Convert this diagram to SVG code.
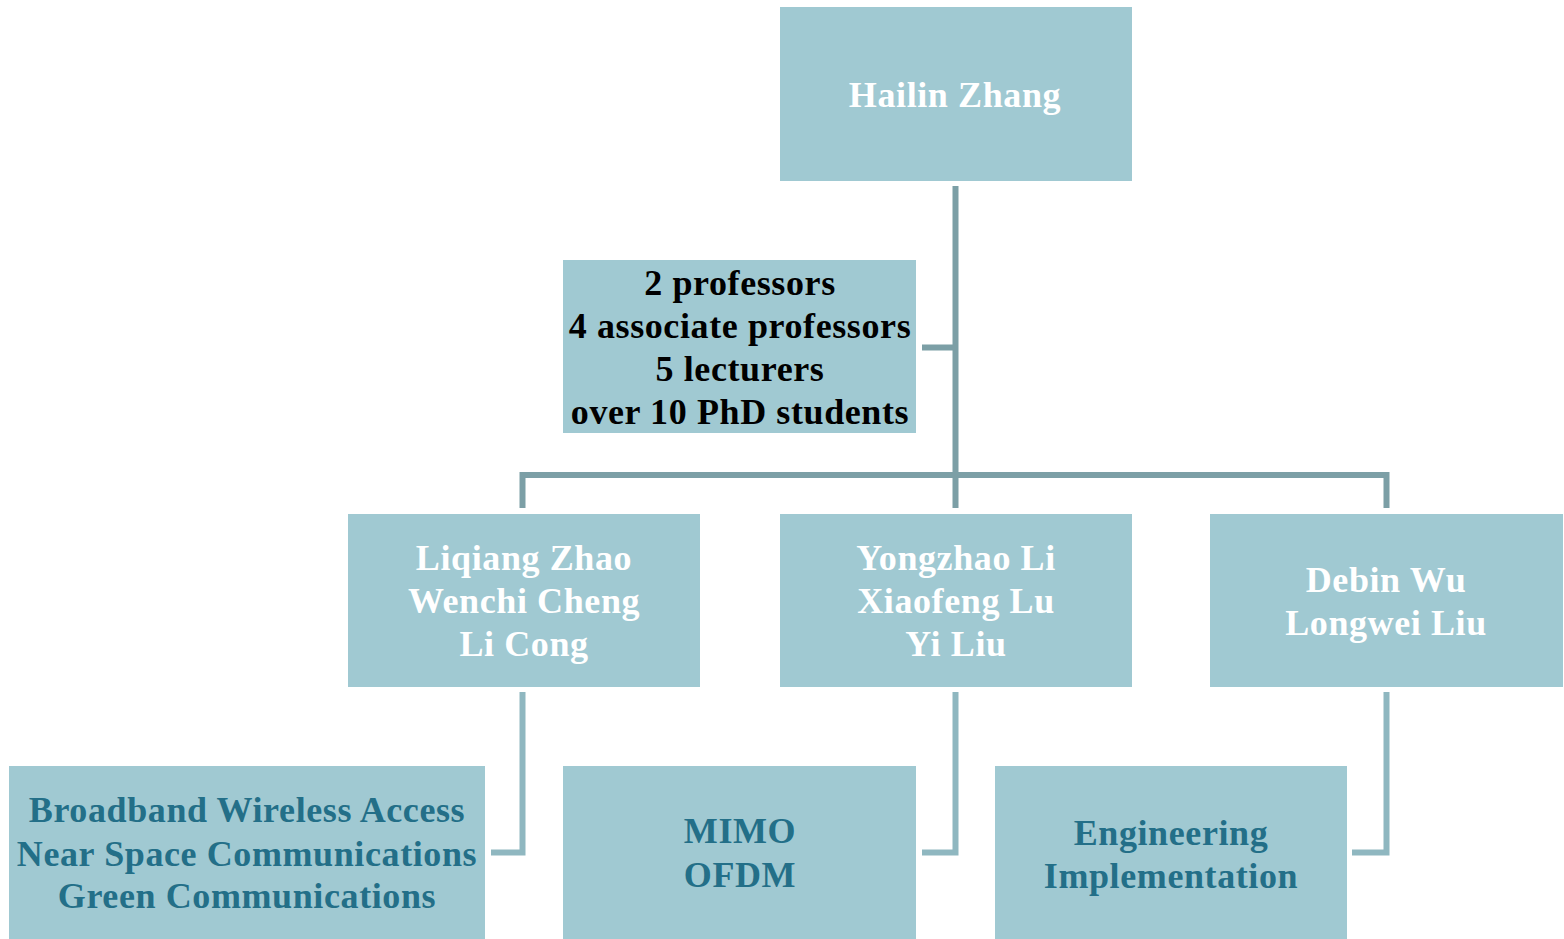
<svg xmlns="http://www.w3.org/2000/svg" width="1564" height="939" viewBox="0 0 1564 939">
<style>
.box{fill:#a0c9d2}
.t{font-family:"Liberation Serif","Times New Roman",serif;font-weight:bold;font-size:36px;text-anchor:middle;letter-spacing:0.6px}
.w{fill:#ffffff}
.k{fill:#000000}
.d{fill:#236f88}
.c1{fill:none;stroke:#7c9fa6;stroke-width:6}
.c2{fill:none;stroke:#8fb7c0;stroke-width:6}
</style>
<rect width="1564" height="939" fill="#ffffff"/>
<g id="connectors">
<path class="c1" d="M955.5 186 V508"/>
<path class="c1" d="M955.5 347.5 H922"/>
<path class="c1" d="M522.5 508 V475 H1386.5 V508"/>
<path class="c2" d="M522.5 692 V852.5 H491"/>
<path class="c2" d="M955.5 692 V852.5 H922"/>
<path class="c2" d="M1386.5 692 V852.5 H1352"/>
</g>
<g id="hailin">
<rect class="box" x="780" y="7" width="352" height="174"/>
<text class="t w" x="955" y="107">Hailin Zhang</text>
</g>
<g id="staff">
<rect class="box" x="563" y="260" width="353" height="173"/>
<text class="t k" x="740" y="295">2 professors</text>
<text class="t k" x="740" y="338">4 associate professors</text>
<text class="t k" x="740" y="381">5 lecturers</text>
<text class="t k" x="740" y="424">over 10 PhD students</text>
</g>
<g id="group1">
<rect class="box" x="348" y="514" width="352" height="173"/>
<text class="t w" x="524" y="570">Liqiang Zhao</text>
<text class="t w" x="524" y="613">Wenchi Cheng</text>
<text class="t w" x="524" y="656">Li Cong</text>
</g>
<g id="group2">
<rect class="box" x="780" y="514" width="352" height="173"/>
<text class="t w" x="956" y="570">Yongzhao Li</text>
<text class="t w" x="956" y="613">Xiaofeng Lu</text>
<text class="t w" x="956" y="656">Yi Liu</text>
</g>
<g id="group3">
<rect class="box" x="1210" y="514" width="353" height="173"/>
<text class="t w" x="1386" y="592">Debin Wu</text>
<text class="t w" x="1386" y="635">Longwei Liu</text>
</g>
<g id="topic1">
<rect class="box" x="9" y="766" width="476" height="173"/>
<text class="t d" x="247" y="822">Broadband Wireless Access</text>
<text class="t d" x="247" y="866">Near Space Communications</text>
<text class="t d" x="247" y="908">Green Communications</text>
</g>
<g id="topic2">
<rect class="box" x="563" y="766" width="353" height="173"/>
<text class="t d" x="740" y="843">MIMO</text>
<text class="t d" x="740" y="887">OFDM</text>
</g>
<g id="topic3">
<rect class="box" x="995" y="766" width="352" height="173"/>
<text class="t d" x="1171" y="845">Engineering</text>
<text class="t d" x="1171" y="888">Implementation</text>
</g>
</svg>
